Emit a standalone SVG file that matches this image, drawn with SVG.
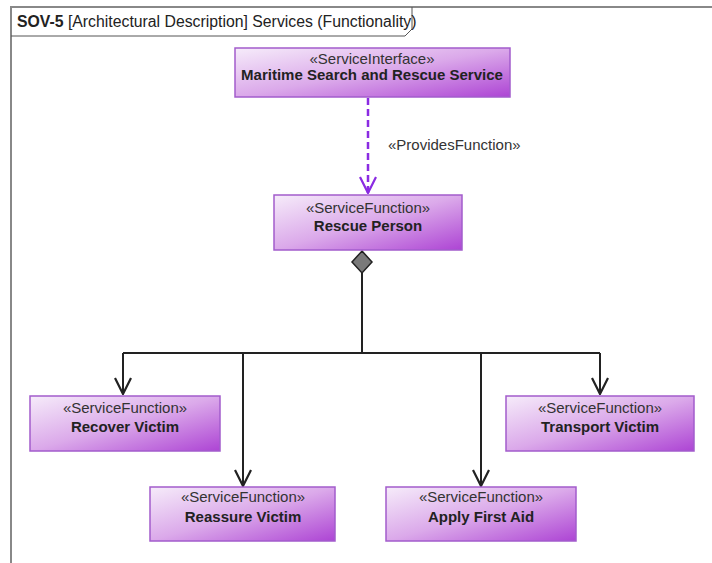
<svg xmlns="http://www.w3.org/2000/svg" width="712" height="563" viewBox="0 0 712 563">
<defs>
<linearGradient id="g" x1="0" y1="0" x2="1" y2="1">
<stop offset="0" stop-color="#f6ecfa"/>
<stop offset="0.5" stop-color="#dba9ea"/>
<stop offset="1" stop-color="#ad44d4"/>
</linearGradient>
<marker id="open" viewBox="0 0 18 18" refX="17" refY="9" markerWidth="18" markerHeight="18" markerUnits="userSpaceOnUse" orient="auto">
<path d="M1,1 L17,9 L1,17" fill="none" stroke="#222" stroke-width="2.2"/>
</marker>
<marker id="openp" viewBox="0 0 18 18" refX="17" refY="9" markerWidth="18" markerHeight="18" markerUnits="userSpaceOnUse" orient="auto">
<path d="M1,1 L17,9 L1,17" fill="none" stroke="#8a2be2" stroke-width="2.2"/>
</marker>
</defs>
<style>
.box{fill:url(#g);stroke:#a25ccc;stroke-width:1.5}
.st{font-family:"Liberation Sans",Arial,sans-serif;font-size:15px;fill:#333;text-anchor:middle}
.nm{font-family:"Liberation Sans",Arial,sans-serif;font-size:15px;font-weight:bold;fill:#222;text-anchor:middle}
.ln{fill:none;stroke:#222;stroke-width:2}
</style>
<rect width="712" height="563" fill="#fff"/>
<g id="frame">
<path d="M11,563 V7 H712" fill="none" stroke="#888" stroke-width="2"/>
<path d="M11,36 H405 L412,29 V7" fill="none" stroke="#555" stroke-width="1"/>
<text x="17" y="27" font-family="'Liberation Sans',Arial,sans-serif" font-size="15.8" fill="#222"><tspan font-weight="bold">SOV-5</tspan> [Architectural Description] Services (Functionality)</text>
</g>
<g id="connectors">
<line x1="368" y1="98" x2="368" y2="193" stroke="#8a2be2" stroke-width="2.5" stroke-dasharray="7,4" marker-end="url(#openp)"/>
<text x="388" y="150" font-family="'Liberation Sans',Arial,sans-serif" font-size="15" fill="#333">«ProvidesFunction»</text>
<path class="ln" d="M362,272 V353"/>
<path class="ln" d="M123,353 H600"/>
<line class="ln" x1="123" y1="353" x2="123" y2="394" marker-end="url(#open)"/>
<line class="ln" x1="243" y1="353" x2="243" y2="486" marker-end="url(#open)"/>
<line class="ln" x1="481" y1="353" x2="481" y2="486" marker-end="url(#open)"/>
<line class="ln" x1="600" y1="353" x2="600" y2="394" marker-end="url(#open)"/>
<path d="M362,251 L372,262 L362,273 L352,262 Z" fill="#7a7a7a" stroke="#222" stroke-width="1.5"/>
</g>
<g id="maritime">
<rect class="box" x="235" y="48" width="275" height="49"/>
<text class="st" x="372" y="64">«ServiceInterface»</text>
<text class="nm" x="372" y="80">Maritime Search and Rescue Service</text>
</g>
<g id="rescue-person">
<rect class="box" x="274" y="195" width="188" height="55"/>
<text class="st" x="368" y="213">«ServiceFunction»</text>
<text class="nm" x="368" y="231">Rescue Person</text>
</g>
<g id="recover-victim">
<rect class="box" x="30" y="396" width="190" height="55"/>
<text class="st" x="125" y="413">«ServiceFunction»</text>
<text class="nm" x="125" y="432">Recover Victim</text>
</g>
<g id="transport-victim">
<rect class="box" x="506" y="396" width="188" height="55"/>
<text class="st" x="600" y="413">«ServiceFunction»</text>
<text class="nm" x="600" y="432">Transport Victim</text>
</g>
<g id="reassure-victim">
<rect class="box" x="150" y="487" width="185" height="54"/>
<text class="st" x="243" y="502">«ServiceFunction»</text>
<text class="nm" x="243" y="522">Reassure Victim</text>
</g>
<g id="apply-first-aid">
<rect class="box" x="386" y="487" width="190" height="54"/>
<text class="st" x="481" y="502">«ServiceFunction»</text>
<text class="nm" x="481" y="522">Apply First Aid</text>
</g>
</svg>
